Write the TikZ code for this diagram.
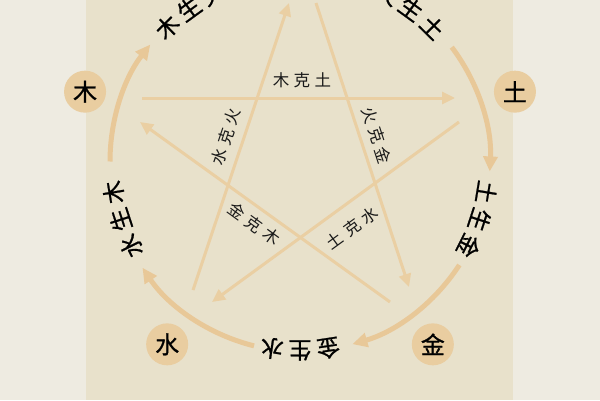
\documentclass[tikz,border=0pt]{standalone}
\usepackage{fontspec}
\newfontfamily\cjk{Noto Sans CJK SC}
\newfontfamily\cjkmed[FakeBold=0.9]{Noto Sans CJK SC}
\usetikzlibrary{arrows.meta}
\definecolor{outerbg}{HTML}{EEEBE1}
\definecolor{panelbg}{HTML}{E8E1CB}
\definecolor{tanfill}{HTML}{E9CDA0}
\definecolor{linec}{HTML}{EACFA3}
\definecolor{arcc}{HTML}{E8C898}
\begin{document}
\begin{tikzpicture}[x=1pt,y=1pt,
  elem/.style={circle, fill=tanfill, minimum size=42pt, inner sep=0pt, font=\cjkmed\fontsize{24}{24}\selectfont, text=black},
  outch/.style={font=\cjkmed\fontsize{23}{23}\selectfont, inner sep=0pt, text=black},
  inlab/.style={font=\cjk\fontsize{16.5}{17}\selectfont, inner sep=0pt, text=black!90},
  ke/.style={draw=linec, line width=3pt, -{Triangle[length=13pt,width=12pt]}},
  sheng/.style={draw=arcc, line width=5pt, -{Triangle[length=15pt,width=14pt]}},
]
\useasboundingbox (0,0) rectangle (600,400);
\clip (0,0) rectangle (600,400);
\fill[outerbg] (0,0) rectangle (600,400);
\fill[panelbg] (86,0) rectangle (513,400);
\coordinate (O) at (300,238.5);
% star (ke) lines
\coordinate (s1a) at (142,302); \coordinate (s1b) at (455,302);
\coordinate (s2a) at (459,278); \coordinate (s2b) at (212,98);
\coordinate (s3a) at (193,110); \coordinate (s3b) at (289,397);
\coordinate (s4a) at (316,397); \coordinate (s4b) at (409,113);
\coordinate (s5a) at (390,98);  \coordinate (s5b) at (140,278);
\draw[ke] (s1a) -- (s1b);
\draw[ke] (s2a) -- (s2b);
\draw[ke] (s3a) -- (s3b);
\draw[ke] (s4a) -- (s4b);
\draw[ke] (s5a) -- (s5b);
% sheng arcs
\draw[sheng] ([shift={(180:190)}]O) arc[start angle=180, end angle=142, radius=190];
\draw[sheng] ([shift={(37:190)}]O) arc[start angle=37, end angle=-3, radius=190];
\draw[sheng] ([shift={(-33:190)}]O) arc[start angle=-33, end angle=-74, radius=190];
\draw[sheng] ([shift={(-104:190)}]O) arc[start angle=-104, end angle=-146, radius=190];
% element nodes
\node[elem] (mu)  at ([shift={(162:226)}]O) {木};
\node[elem] (tu)  at ([shift={(18:226)}]O) {土};
\node[elem] (jin) at ([shift={(-54:226)}]O) {金};
\node[elem] (shui) at ([shift={(-126:226)}]O) {水};
% outer sheng labels
\foreach \a/\t/\n in {134.6/木/a1, 126/生/a2, 117.4/火/a3,
                      62.6/火/b1, 54/生/b2, 45.4/土/b3,
                      -9.4/土/c1, -18/生/c2, -26.6/金/c3,
                      -81.4/金/d1, -90/生/d2, -98.6/水/d3,
                      206.6/水/e1, 198/生/e2, 189.4/木/e3}
  \node[outch, rotate=\a-90] (\n) at ([shift={(\a:189)}]O) {\t};
% inner ke labels
\node[inlab] (mkt) at (302,320) {木\hspace{4.5pt}克\hspace{4.5pt}土};
\node[inlab, rotate=71.5] (skh) at (226,263) {水\hspace{4.5pt}克\hspace{4.5pt}火};
\node[inlab, rotate=-72] (hkj) at (377,265) {火\hspace{4.5pt}克\hspace{4.5pt}金};
\node[inlab, rotate=-36] (jkm) at (254,176) {金\hspace{5pt}克\hspace{5pt}木};
\node[inlab, rotate=36] (tks) at (352,172) {土\hspace{5pt}克\hspace{5pt}水};
\end{tikzpicture}
\end{document}
